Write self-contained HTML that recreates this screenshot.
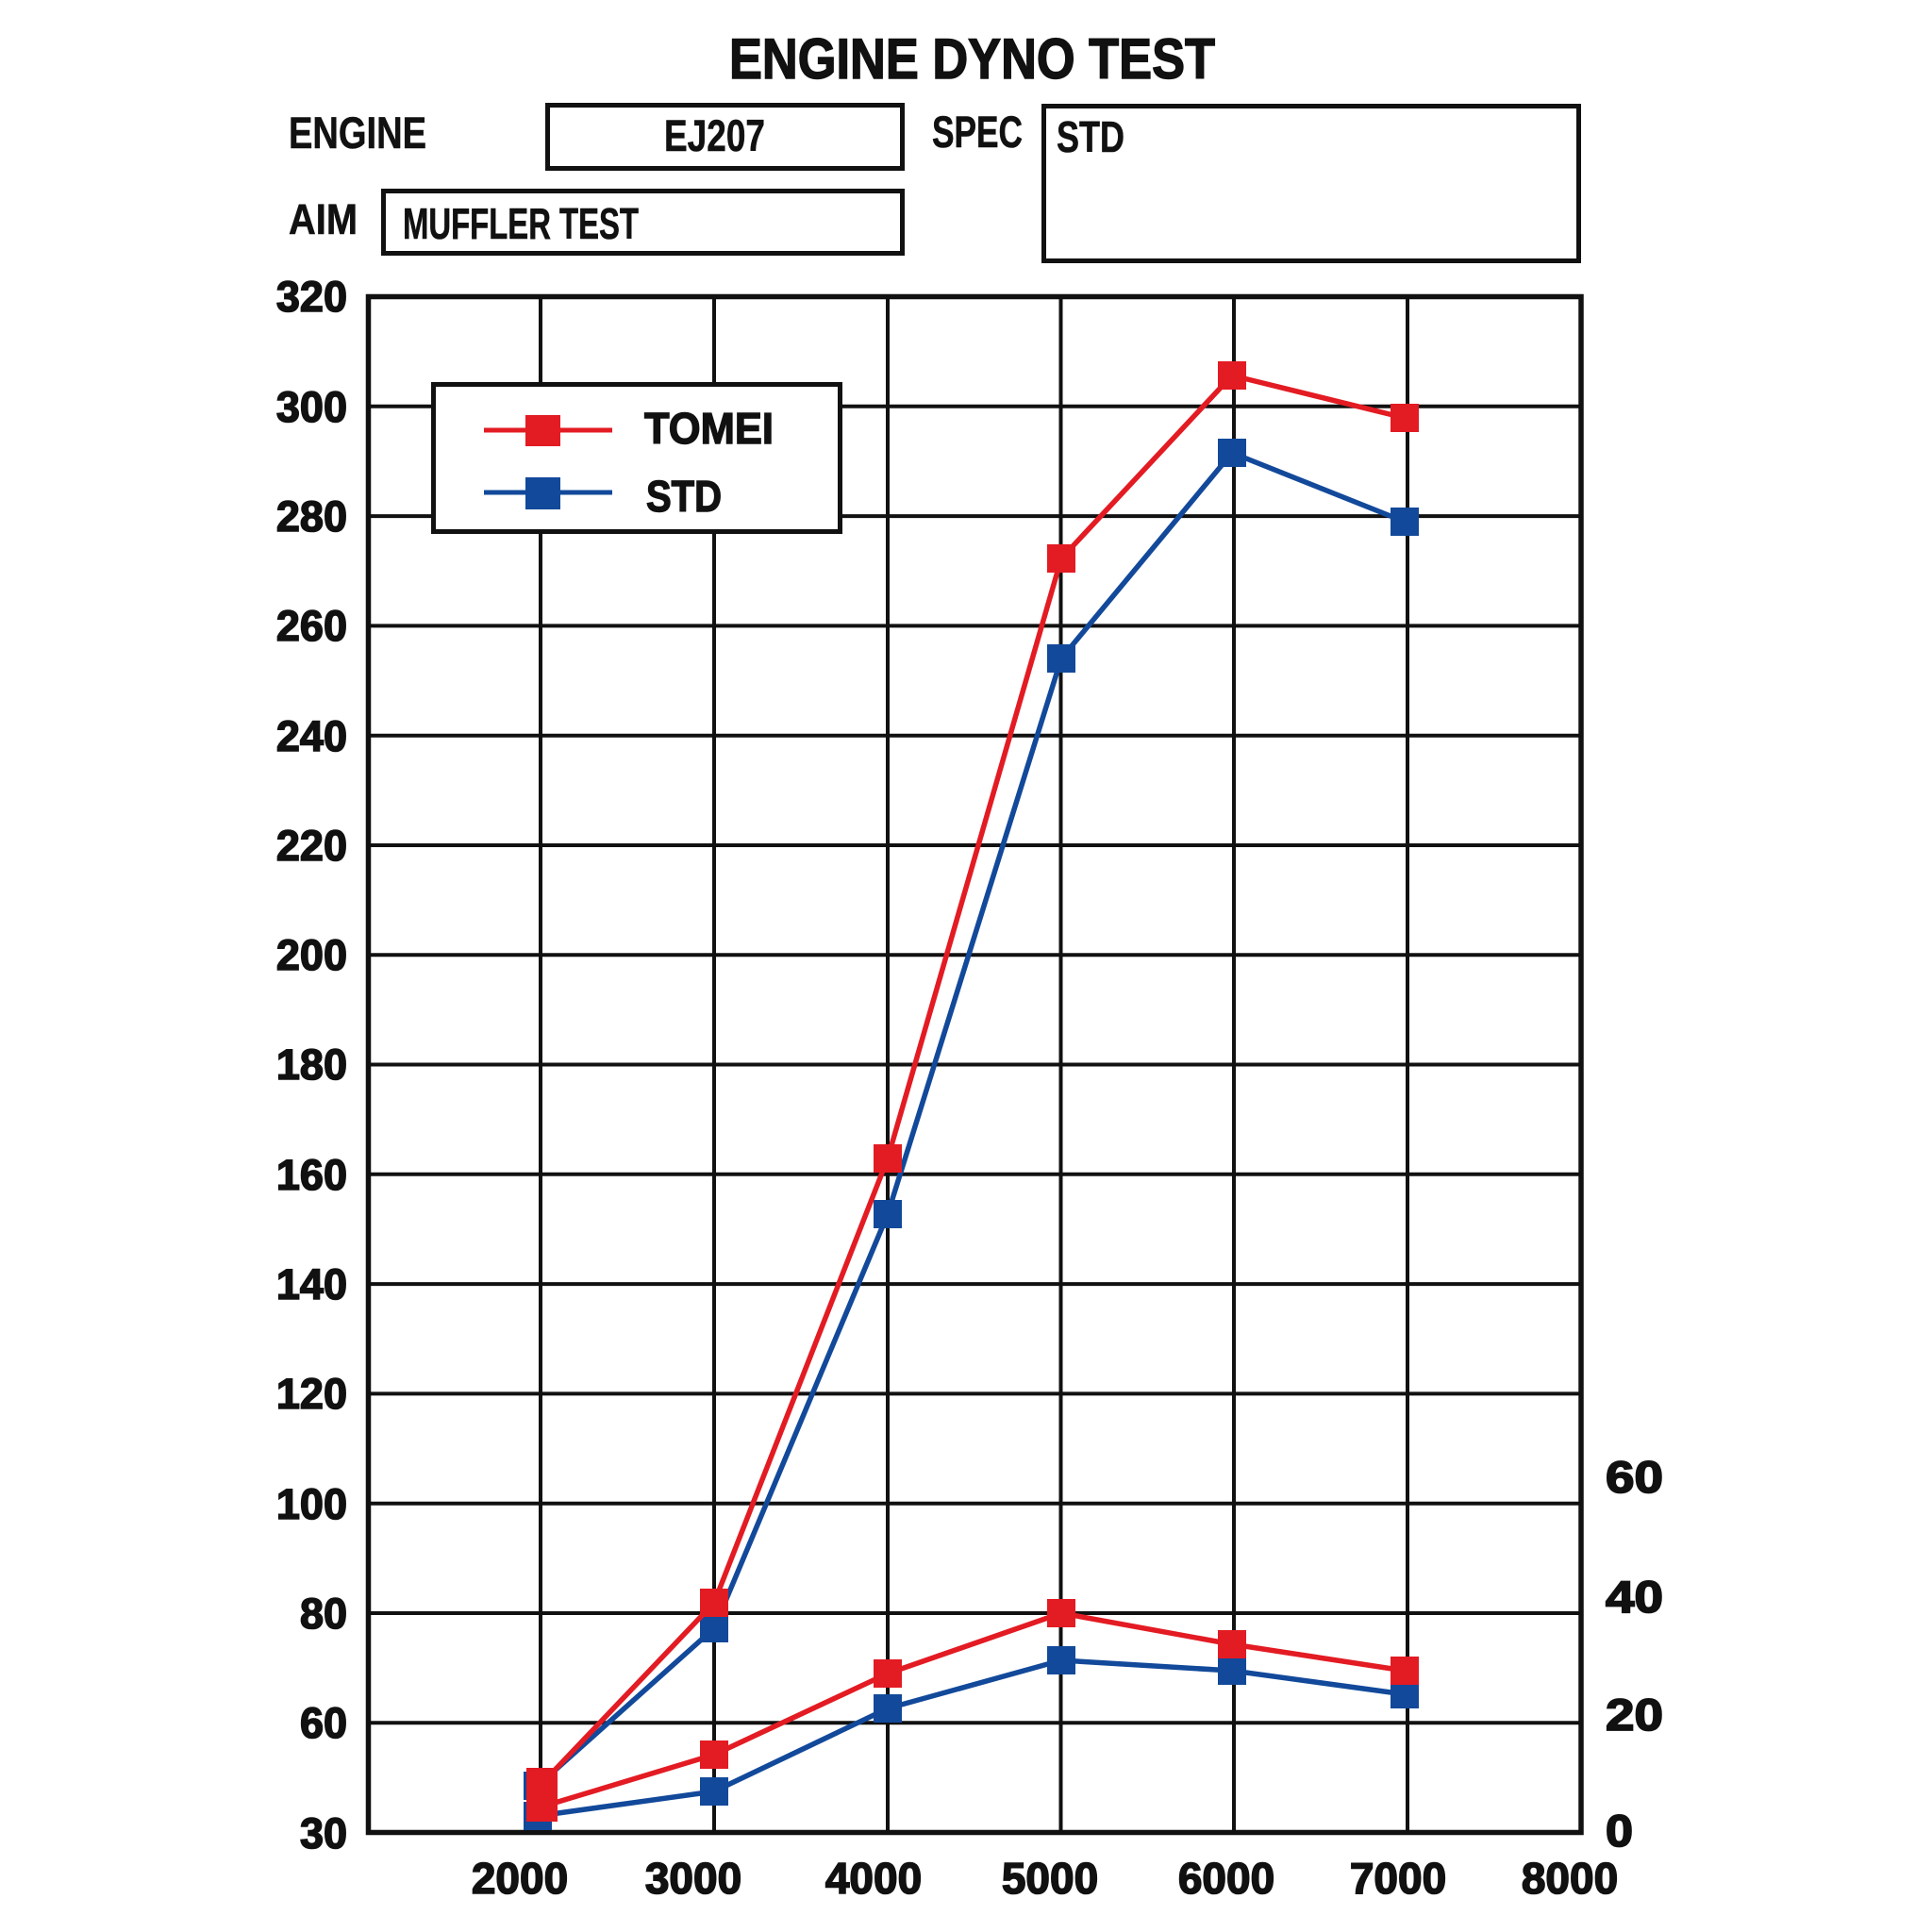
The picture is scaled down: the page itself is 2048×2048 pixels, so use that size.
<!DOCTYPE html>
<html>
<head>
<meta charset="utf-8">
<style>
  html, body { margin: 0; padding: 0; background: #ffffff; }
  svg { display: block; }
  text { font-family: "Liberation Sans", Arial, sans-serif; fill: #111; }
</style>
</head>
<body>
<svg width="2048" height="2048" viewBox="0 0 2048 2048" xmlns="http://www.w3.org/2000/svg">
  <rect x="0" y="0" width="2048" height="2048" fill="#ffffff"/>

  <!-- Title -->
  <text x="773" y="83" font-size="60" font-weight="bold" textLength="515" lengthAdjust="spacingAndGlyphs" stroke="#111" stroke-width="1.5">ENGINE DYNO TEST</text>

  <!-- Header labels -->
  <text x="306" y="157" font-size="47" font-weight="bold" textLength="146" lengthAdjust="spacingAndGlyphs" stroke="#111" stroke-width="0.6">ENGINE</text>
  <text x="306" y="248" font-size="45" font-weight="bold" textLength="73" lengthAdjust="spacingAndGlyphs" stroke="#111" stroke-width="0.6">AIM</text>
  <text x="988" y="156" font-size="47" font-weight="bold" textLength="96" lengthAdjust="spacingAndGlyphs" stroke="#111" stroke-width="0.6">SPEC</text>

  <!-- Header boxes -->
  <rect x="580.5" y="111.5" width="376" height="67" fill="none" stroke="#111" stroke-width="5"/>
  <text x="704" y="160" font-size="47" font-weight="bold" textLength="107" lengthAdjust="spacingAndGlyphs" stroke="#111" stroke-width="0.6">EJ207</text>

  <rect x="406.5" y="202.5" width="550" height="66" fill="none" stroke="#111" stroke-width="5"/>
  <text x="427" y="253" font-size="46" font-weight="bold" textLength="250" lengthAdjust="spacingAndGlyphs" stroke="#111" stroke-width="0.6">MUFFLER TEST</text>

  <rect x="1106.5" y="112.5" width="567" height="164" fill="none" stroke="#111" stroke-width="5"/>
  <text x="1120" y="161" font-size="46" font-weight="bold" textLength="72" lengthAdjust="spacingAndGlyphs" stroke="#111" stroke-width="0.6">STD</text>

  <!-- Grid: horizontal lines -->
  <g stroke="#111" stroke-width="4">
    <line x1="390.5" y1="430.8" x2="1676" y2="430.8"/>
    <line x1="390.5" y1="547.1" x2="1676" y2="547.1"/>
    <line x1="390.5" y1="663.4" x2="1676" y2="663.4"/>
    <line x1="390.5" y1="779.7" x2="1676" y2="779.7"/>
    <line x1="390.5" y1="896.0" x2="1676" y2="896.0"/>
    <line x1="390.5" y1="1012.3" x2="1676" y2="1012.3"/>
    <line x1="390.5" y1="1128.5" x2="1676" y2="1128.5"/>
    <line x1="390.5" y1="1244.8" x2="1676" y2="1244.8"/>
    <line x1="390.5" y1="1361.1" x2="1676" y2="1361.1"/>
    <line x1="390.5" y1="1477.4" x2="1676" y2="1477.4"/>
    <line x1="390.5" y1="1593.7" x2="1676" y2="1593.7"/>
    <line x1="390.5" y1="1710.0" x2="1676" y2="1710.0"/>
    <line x1="390.5" y1="1826.3" x2="1676" y2="1826.3"/>
    <!-- vertical -->
    <line x1="573" y1="314.5" x2="573" y2="1942.5"/>
    <line x1="757" y1="314.5" x2="757" y2="1942.5"/>
    <line x1="941" y1="314.5" x2="941" y2="1942.5"/>
    <line x1="1124.5" y1="314.5" x2="1124.5" y2="1942.5"/>
    <line x1="1308" y1="314.5" x2="1308" y2="1942.5"/>
    <line x1="1492" y1="314.5" x2="1492" y2="1942.5"/>
  </g>

  <!-- Plot border -->
  <rect x="390.5" y="314.5" width="1285.5" height="1628" fill="none" stroke="#111" stroke-width="5.5"/>

  <!-- Left axis labels -->
  <g font-size="45" font-weight="bold" text-anchor="end" stroke="#111" stroke-width="1.6">
    <text x="368" y="330">320</text>
    <text x="368" y="447">300</text>
    <text x="368" y="563">280</text>
    <text x="368" y="679">260</text>
    <text x="368" y="796">240</text>
    <text x="368" y="912">220</text>
    <text x="368" y="1028">200</text>
    <text x="368" y="1144">180</text>
    <text x="368" y="1261">160</text>
    <text x="368" y="1377">140</text>
    <text x="368" y="1493">120</text>
    <text x="368" y="1610">100</text>
    <text x="368" y="1726">80</text>
    <text x="368" y="1842">60</text>
    <text x="368" y="1959">30</text>
  </g>

  <!-- Right axis labels -->
  <g font-size="47" font-weight="bold" stroke="#111" stroke-width="1.8">
    <text x="1702" y="1582" textLength="61" lengthAdjust="spacingAndGlyphs">60</text>
    <text x="1702" y="1709" textLength="61" lengthAdjust="spacingAndGlyphs">40</text>
    <text x="1702" y="1834" textLength="61" lengthAdjust="spacingAndGlyphs">20</text>
    <text x="1702" y="1957" textLength="29" lengthAdjust="spacingAndGlyphs">0</text>
  </g>

  <!-- X axis labels -->
  <g font-size="46" font-weight="bold" text-anchor="middle" stroke="#111" stroke-width="1.6">
    <text x="551" y="2007">2000</text>
    <text x="735" y="2007">3000</text>
    <text x="926" y="2007">4000</text>
    <text x="1113" y="2007">5000</text>
    <text x="1300" y="2007">6000</text>
    <text x="1482" y="2007">7000</text>
    <text x="1664" y="2007">8000</text>
  </g>

  <!-- Legend -->
  <rect x="459.5" y="407.5" width="431" height="156" fill="#ffffff" stroke="#111" stroke-width="5"/>
  <line x1="513" y1="456" x2="649" y2="456" stroke="#e31b23" stroke-width="5"/>
  <rect x="557" y="440" width="37" height="33" fill="#e31b23"/>
  <line x1="513" y1="522" x2="649" y2="522" stroke="#12499a" stroke-width="5"/>
  <rect x="557" y="506" width="37" height="34" fill="#12499a"/>
  <text x="683" y="470" font-size="46" font-weight="bold" textLength="137" lengthAdjust="spacingAndGlyphs" stroke="#111" stroke-width="1.4">TOMEI</text>
  <text x="685" y="542" font-size="46" font-weight="bold" textLength="80" lengthAdjust="spacingAndGlyphs" stroke="#111" stroke-width="1.4">STD</text>

  <!-- STD series (blue) -->
  <g stroke="#12499a" stroke-width="5.5" fill="none" stroke-linejoin="round">
    <polyline points="570,1893 757,1726 941,1287 1125,698 1306,480 1489,553"/>
    <polyline points="570,1925 757,1899 941,1811 1125,1760 1306,1771 1489,1796"/>
  </g>
  <g fill="#12499a">
    <rect x="555" y="1878" width="30" height="30"/>
    <rect x="555" y="1910" width="30" height="30"/>
    <rect x="742" y="1711" width="30" height="30"/>
    <rect x="926" y="1272" width="30" height="30"/>
    <rect x="1110" y="683" width="30" height="30"/>
    <rect x="1291" y="465" width="30" height="30"/>
    <rect x="1474" y="538" width="30" height="30"/>
    <rect x="742" y="1884" width="30" height="30"/>
    <rect x="926" y="1796" width="30" height="30"/>
    <rect x="1110" y="1745" width="30" height="30"/>
    <rect x="1291" y="1756" width="30" height="30"/>
    <rect x="1474" y="1781" width="30" height="30"/>
  </g>

  <!-- TOMEI series (red) -->
  <g stroke="#e31b23" stroke-width="5.5" fill="none" stroke-linejoin="round">
    <polyline points="575,1890 757,1699 941,1228 1125,592 1306,398 1489,443"/>
    <polyline points="575,1915 757,1860 941,1774 1125,1710 1306,1743 1489,1771"/>
  </g>
  <g fill="#e31b23">
    <rect x="558" y="1874" width="33" height="32"/>
    <rect x="558" y="1899" width="33" height="32"/>
    <rect x="742" y="1684" width="30" height="30"/>
    <rect x="926" y="1213" width="30" height="30"/>
    <rect x="1110" y="577" width="30" height="30"/>
    <rect x="1291" y="383" width="30" height="30"/>
    <rect x="1474" y="428" width="30" height="30"/>
    <rect x="742" y="1845" width="30" height="30"/>
    <rect x="926" y="1759" width="30" height="30"/>
    <rect x="1110" y="1695" width="30" height="30"/>
    <rect x="1291" y="1728" width="30" height="30"/>
    <rect x="1474" y="1756" width="30" height="30"/>
  </g>
</svg>
</body>
</html>
